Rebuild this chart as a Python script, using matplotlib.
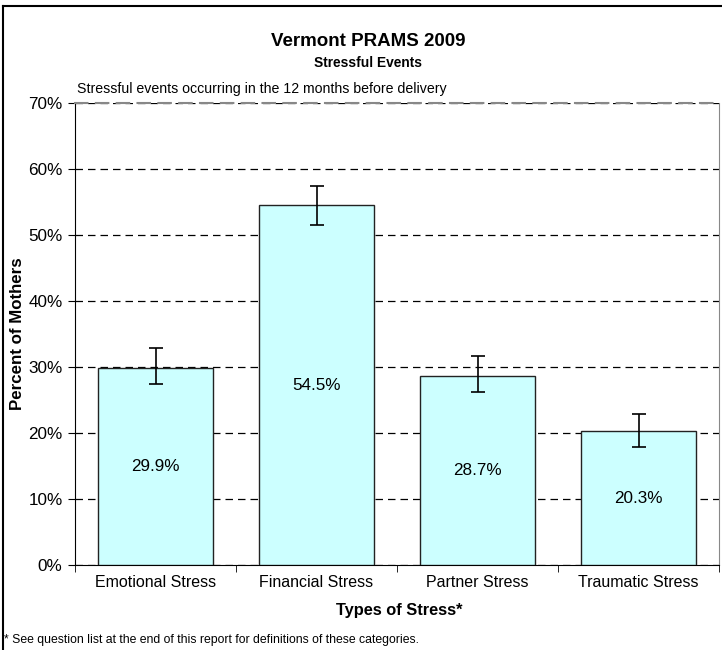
import matplotlib
matplotlib.use("Agg")
import matplotlib.pyplot as plt
from matplotlib.lines import Line2D
import numpy as np

plt.rcParams['font.family'] = ['Liberation Sans', 'DejaVu Sans']

categories = ["Emotional Stress", "Financial Stress", "Partner Stress", "Traumatic Stress"]
values = [29.9, 54.5, 28.7, 20.3]
ci_low = [27.4, 51.5, 26.2, 17.9]
ci_high = [32.9, 57.5, 31.7, 22.9]
yticks = [0, 10, 20, 30, 40, 50, 60, 70]

fig = plt.figure(figsize=(7.22, 6.5), dpi=100)
ax = fig.add_axes([75/722, 1-565/650, (719-75)/722, (565-103)/650])

x = np.arange(len(categories))
err = [np.array(values) - np.array(ci_low), np.array(ci_high) - np.array(values)]
ax.bar(x, values, width=0.72, color="#CCFFFF", edgecolor="#222222", linewidth=1.0, zorder=3)
ax.errorbar(x, values, yerr=err, fmt="none", ecolor="black", elinewidth=1.2, capsize=5, capthick=1.2, zorder=4)
for xi, v in zip(x, values):
    ax.text(xi, v/2, f"{v}%", ha="center", va="center", fontsize=12.3, zorder=5)

ax.set_xlim(-0.5, len(categories)-0.5)
ax.set_ylim(0, 70)
ax.set_yticks(yticks)
ax.set_yticklabels([f"{t}%" for t in yticks], fontsize=12.3)
ax.set_xticks(x)
ax.set_xticklabels(categories, fontsize=11.5)
ax.tick_params(axis='x', length=0, pad=7)
# category boundary ticks
ax.set_xticks(np.arange(-0.5, len(categories)), minor=True)
ax.tick_params(axis='x', which='minor', length=5, direction='out', color='black')
ax.tick_params(axis='y', length=5, direction='out', color='black', pad=4)

ax.yaxis.grid(True, linestyle=(0, (6, 4)), color="black", linewidth=0.9, zorder=0)
ax.set_axisbelow(True)
ax.spines['left'].set_color('black')
ax.spines['bottom'].set_color('black')
ax.spines['top'].set_color('#888888')
ax.spines['right'].set_color('#888888')
ax.spines['top'].set_linestyle((0, (6, 4)))
ax.spines['top'].set_linewidth(1.5)

fig.text(18/722, 1-334/650, "Percent of Mothers", ha="center", va="center", rotation=90,
         fontsize=12.2, fontweight='bold')
fig.text(399/722, 1-611/650, "Types of Stress*", ha="center", va="center", fontsize=11.8, fontweight='bold')

fig.text(368/722, 1-42/650, "Vermont PRAMS 2009", ha="center", va="center", fontsize=13.5, fontweight='bold')
fig.text(368/722, 1-63/650, "Stressful Events", ha="center", va="center", fontsize=9.9, fontweight='bold')
fig.text(77/722, 1-89/650, "Stressful events occurring in the 12 months before delivery", ha="left", va="center", fontsize=10.2)
fig.text(4/722, 1-640/650, "* See question list at the end of this report for definitions of these categories.", ha="left", va="center", fontsize=8.8)

# figure frame (left and top)
fig.add_artist(Line2D([3/722, 3/722], [0, 1-6/650], color="black", linewidth=1.5, transform=fig.transFigure))
fig.add_artist(Line2D([3/722, 1], [1-6/650, 1-6/650], color="black", linewidth=1.5, transform=fig.transFigure))

fig.savefig("out.png", dpi=100)
